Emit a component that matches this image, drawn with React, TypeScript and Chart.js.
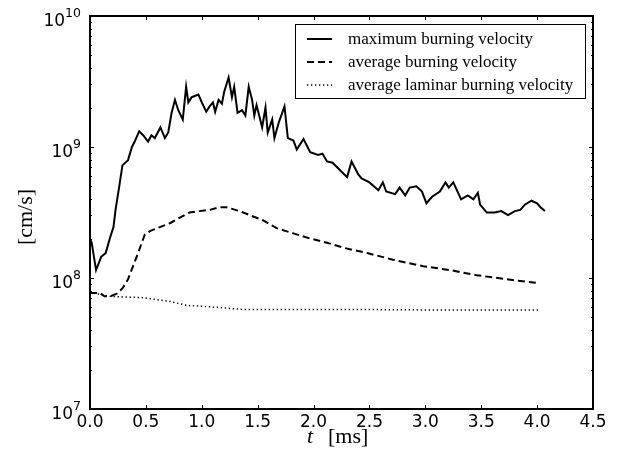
import React, { useEffect, useRef } from 'react';
import { Chart, registerables } from 'chart.js';

Chart.register(...registerables);

// maximum burning velocity [cm/s] vs t [ms]
const tMax = [0, 0.015, 0.054, 0.10, 0.14, 0.18, 0.21, 0.23, 0.26, 0.29, 0.34, 0.375, 0.40, 0.44, 0.475, 0.52, 0.55, 0.58, 0.63, 0.67, 0.70, 0.73, 0.76, 0.79, 0.83, 0.86, 0.88, 0.91, 0.97, 1.0, 1.04, 1.07, 1.10, 1.12, 1.15, 1.18, 1.20, 1.24, 1.27, 1.29, 1.32, 1.36, 1.39, 1.42, 1.45, 1.47, 1.49, 1.54, 1.57, 1.59, 1.63, 1.65, 1.69, 1.74, 1.77, 1.82, 1.85, 1.91, 1.97, 2.04, 2.08, 2.12, 2.17, 2.24, 2.30, 2.34, 2.40, 2.43, 2.50, 2.58, 2.62, 2.65, 2.73, 2.77, 2.82, 2.86, 2.92, 2.97, 3.01, 3.06, 3.13, 3.18, 3.21, 3.25, 3.32, 3.38, 3.43, 3.47, 3.49, 3.55, 3.62, 3.68, 3.74, 3.80, 3.85, 3.89, 3.95, 4.0, 4.03, 4.07];
const vMax = [2.0e8, 1.86e8, 1.15e8, 1.45e8, 1.55e8, 2.04e8, 2.45e8, 3.39e8, 4.90e8, 7.24e8, 7.94e8, 1.0e9, 1.10e9, 1.32e9, 1.23e9, 1.10e9, 1.23e9, 1.17e9, 1.41e9, 1.17e9, 1.29e9, 1.82e9, 2.29e9, 1.91e9, 1.62e9, 2.88e9, 2.19e9, 2.40e9, 2.51e9, 2.19e9, 1.86e9, 2.04e9, 2.19e9, 1.86e9, 2.29e9, 2.14e9, 2.63e9, 3.39e9, 2.40e9, 2.88e9, 1.82e9, 1.91e9, 1.74e9, 2.88e9, 2.29e9, 1.74e9, 2.09e9, 1.41e9, 2.0e9, 1.29e9, 1.62e9, 1.17e9, 1.55e9, 2.04e9, 1.17e9, 1.12e9, 9.55e8, 1.15e9, 9.12e8, 8.71e8, 8.91e8, 7.76e8, 7.59e8, 6.61e8, 5.89e8, 7.76e8, 6.17e8, 5.75e8, 5.37e8, 4.68e8, 5.37e8, 4.57e8, 4.37e8, 4.90e8, 4.27e8, 4.90e8, 5.01e8, 4.57e8, 3.72e8, 4.17e8, 4.57e8, 5.37e8, 4.90e8, 5.37e8, 3.98e8, 4.27e8, 3.98e8, 4.47e8, 3.63e8, 3.16e8, 3.16e8, 3.24e8, 3.02e8, 3.24e8, 3.31e8, 3.63e8, 3.89e8, 3.72e8, 3.47e8, 3.24e8];

// average burning velocity
const tAvg = [0, 0.09, 0.13, 0.18, 0.24, 0.29, 0.34, 0.43, 0.49, 0.54, 0.60, 0.72, 0.80, 0.89, 0.98, 1.07, 1.16, 1.22, 1.34, 1.46, 1.55, 1.67, 1.82, 1.97, 2.12, 2.27, 2.48, 2.71, 2.98, 3.22, 3.46, 3.73, 4.02];
const vAvg = [7.67e7, 7.67e7, 7.24e7, 7.24e7, 7.59e7, 8.32e7, 9.77e7, 1.55e8, 2.14e8, 2.29e8, 2.40e8, 2.63e8, 2.88e8, 3.16e8, 3.24e8, 3.31e8, 3.47e8, 3.47e8, 3.24e8, 2.95e8, 2.75e8, 2.40e8, 2.19e8, 2.0e8, 1.86e8, 1.70e8, 1.55e8, 1.38e8, 1.23e8, 1.15e8, 1.05e8, 9.77e7, 9.12e7];

// average laminar burning velocity
const tLam = [0, 0.18, 0.47, 0.72, 0.87, 1.07, 1.37, 2.41, 3.2, 4.02];
const vLam = [7.76e7, 7.24e7, 7.08e7, 6.61e7, 6.17e7, 6.03e7, 5.75e7, 5.75e7, 5.69e7, 5.69e7];

const xTicks = [0, 0.5, 1.0, 1.5, 2.0, 2.5, 3.0, 3.5, 4.0, 4.5];
const yExponents = [7, 8, 9, 10];
const legendLabels = ['maximum burning velocity', 'average burning velocity', 'average laminar burning velocity'];
const xTitleItalic = 't';
const xTitleRest = '[ms]';
const yTitle = '[cm/s]';

const SERIF = '"Liberation Serif", "DejaVu Serif", serif';
const SANS = '"DejaVu Sans", sans-serif';

const dashes: number[][] = [[], [7, 4], [1.3, 2.7]];
const widths = [2, 2, 1.5];

const decor = {
  id: 'decor',
  afterDatasetsDraw(chart: any) {
    const { ctx, chartArea: a, scales } = chart;
    const xs = scales.x;
    const ys = scales.y;
    ctx.save();
    ctx.strokeStyle = '#000';
    ctx.fillStyle = '#000';

    const seg = (x1: number, y1: number, x2: number, y2: number) => {
      ctx.beginPath();
      ctx.moveTo(x1, y1);
      ctx.lineTo(x2, y2);
      ctx.stroke();
    };

    // ticks
    ctx.lineWidth = 1;
    for (const v of xTicks) {
      const px = Math.round(xs.getPixelForValue(v)) + 0.5;
      seg(px, a.bottom, px, a.bottom - 4);
      seg(px, a.top, px, a.top + 4);
    }
    for (let e = 7; e <= 10; e++) {
      for (let m = 1; m <= 9; m++) {
        if (e === 10 && m > 1) break;
        const v = m * Math.pow(10, e);
        const py = Math.round(ys.getPixelForValue(v)) + 0.5;
        const len = m === 1 ? 4 : 2;
        seg(a.left, py, a.left + len, py);
        seg(a.right, py, a.right - len, py);
      }
    }

    // frame
    ctx.lineWidth = 2;
    ctx.strokeRect(a.left, a.top, a.right - a.left, a.bottom - a.top);

    // x tick labels
    ctx.font = `17px ${SANS}`;
    ctx.textAlign = 'center';
    ctx.textBaseline = 'alphabetic';
    for (const v of xTicks) {
      ctx.fillText(v.toFixed(1), xs.getPixelForValue(v), a.bottom + 18);
    }

    // y tick labels (10^e)
    for (const e of yExponents) {
      const py = ys.getPixelForValue(Math.pow(10, e));
      const right = a.left - 9;
      ctx.textAlign = 'right';
      ctx.font = `12.5px ${SANS}`;
      const sup = String(e);
      const supW = ctx.measureText(sup).width;
      ctx.fillText(sup, right, py + 1);
      ctx.font = `17px ${SANS}`;
      ctx.fillText('10', right - supW, py + 10);
    }

    // axis titles
    ctx.textAlign = 'left';
    ctx.font = `italic 22px ${SERIF}`;
    ctx.fillText(xTitleItalic, 307, 443);
    ctx.font = `22px ${SERIF}`;
    ctx.fillText(xTitleRest, 328, 443);

    ctx.save();
    ctx.translate(32, 217);
    ctx.rotate(-Math.PI / 2);
    ctx.textAlign = 'center';
    ctx.font = `22px ${SERIF}`;
    ctx.fillText(yTitle, 0, 0);
    ctx.restore();

    // legend
    const lx = 295.5, ly = 24.5, lw = 290, lh = 74;
    ctx.fillStyle = '#fff';
    ctx.fillRect(lx, ly, lw, lh);
    ctx.lineWidth = 1;
    ctx.strokeStyle = '#000';
    ctx.strokeRect(lx, ly, lw, lh);
    ctx.fillStyle = '#000';
    ctx.font = `17px ${SERIF}`;
    ctx.textAlign = 'left';
    legendLabels.forEach((lab, i) => {
      const ry = 39 + i * 23;
      ctx.lineWidth = widths[i];
      ctx.setLineDash(dashes[i]);
      seg(307, ry, 332, ry);
      ctx.setLineDash([]);
      ctx.fillText(lab, 348, ry + 5);
    });

    ctx.restore();
  },
};

export default function App() {
  const ref = useRef<HTMLCanvasElement | null>(null);
  useEffect(() => {
    if (!ref.current) return;
    const mk = (ts: number[], vs: number[]) => ts.map((t, i) => ({ x: t, y: vs[i] }));
    const chart = new Chart(ref.current, {
      type: 'line',
      data: {
        datasets: [
          { label: legendLabels[0], data: mk(tMax, vMax), borderColor: '#000', borderWidth: widths[0], borderDash: dashes[0], pointRadius: 0, tension: 0, fill: false },
          { label: legendLabels[1], data: mk(tAvg, vAvg), borderColor: '#000', borderWidth: widths[1], borderDash: dashes[1], pointRadius: 0, tension: 0, fill: false },
          { label: legendLabels[2], data: mk(tLam, vLam), borderColor: '#000', borderWidth: widths[2], borderDash: dashes[2], pointRadius: 0, tension: 0, fill: false },
        ],
      },
      options: {
        animation: false,
        responsive: false,
        maintainAspectRatio: false,
        layout: { padding: { left: 90, right: 25, top: 16, bottom: 48 } },
        plugins: { legend: { display: false }, tooltip: { enabled: false } },
        scales: {
          x: { type: 'linear', min: 0, max: 4.5, display: false },
          y: { type: 'logarithmic', min: 1e7, max: 1e10, display: false },
        },
      },
      plugins: [decor],
    });
    return () => chart.destroy();
  }, []);
  return (
    <div style={{ position: 'fixed', left: 0, top: 0, width: 618, height: 457, background: '#fff' }}>
      <canvas ref={ref} width={618} height={457} style={{ width: 618, height: 457, display: 'block' }} />
    </div>
  );
}
